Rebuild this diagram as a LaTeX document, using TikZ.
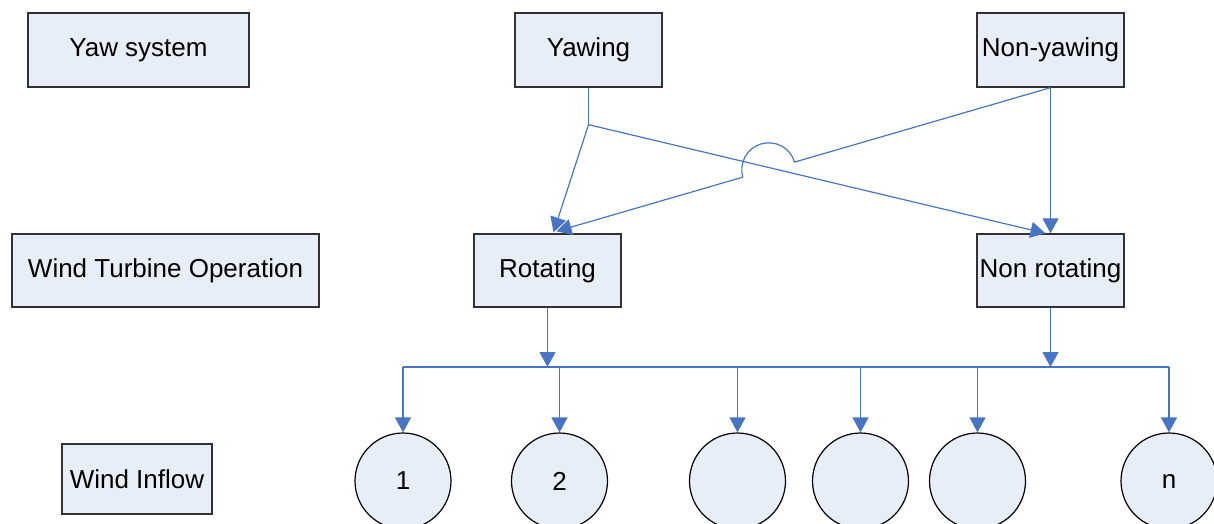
\documentclass[tikz,border=0pt]{standalone}
\usepackage{fontspec}
\setmainfont{Liberation Sans}
\usetikzlibrary{arrows.meta,calc}
\definecolor{boxfill}{RGB}{232,238,248}
\definecolor{linkblue}{RGB}{71,117,196}
\definecolor{boxedge}{RGB}{50,50,50}
\tikzset{
  box/.style={draw=boxedge,line width=1.3pt,fill=boxfill,inner sep=0pt,
    font=\fontsize{26}{30}\selectfont},
  ring/.style={circle,draw=black,line width=1.2pt,fill=boxfill,inner sep=0pt,
    minimum size=96pt,font=\fontsize{26}{30}\selectfont},
  link/.style={draw=linkblue,line width=1.2pt},
  arr/.style={link,-{Triangle[width=16pt,length=15pt]}}
}
\begin{document}
\begin{tikzpicture}[x=1pt,y=-1pt]
\useasboundingbox (0,0) rectangle (1214,524);
\clip (0,0) rectangle (1214,524);
% boxes
\node[box,minimum width=221pt,minimum height=74pt] (yaw) at (138.5,50) {Yaw system};
\node[box,minimum width=307pt,minimum height=73pt] (wto) at (165.5,270.5) {Wind Turbine Operation};
\node[box,minimum width=150pt,minimum height=70pt] (wi) at (137,479) {Wind Inflow};
\node[box,minimum width=147pt,minimum height=74pt] (yawing) at (588.5,50) {Yawing};
\node[box,minimum width=147pt,minimum height=74pt] (nony) at (1050.5,50) {Non-yawing};
\node[box,minimum width=147pt,minimum height=73pt] (rot) at (547.5,270.5) {Rotating};
\node[box,minimum width=147pt,minimum height=73pt] (nrot) at (1050.5,270.5) {Non rotating};
% circles
\node[ring] (c1) at (403,481) {1};
\node[ring] (c2) at (559.5,481) {2};
\node[ring] (c3) at (737.5,481) {};
\node[ring] (c4) at (860.5,481) {};
\node[ring] (c5) at (977.5,481) {};
\node[ring] (cn) at (1169,481) {n};
% junctions
\coordinate (j1) at ($(yawing.south)+(0,37)$);
\coordinate (rtA) at ($(rot.north)+(6,-1)$);
\coordinate (rtB) at ($(rot.north)+(9,-2)$);
\coordinate (nrtA) at ($(nrot.north)+(-5,0)$);
\coordinate (busL) at (c1.north |- 0,367);
\coordinate (busR) at (cn.north |- 0,367);
% top connectors
\draw[link] (yawing.south) -- (j1);
\draw[arr] (j1) -- (rtA);
\draw[arr] (j1) -- (nrtA);
\draw[arr] (nony.south) -- (nrot.north);
\coordinate (hopR) at ($(nony.south)!0.518!(rtB)$);
\coordinate (hopL) at ($(nony.south)!0.623!(rtB)$);
\draw[link] (nony.south) -- (hopR) arc[start angle=-16.6,end angle=-196.6,radius=27];
\draw[arr] (hopL) -- (rtB);
% bus
\draw[link] (busL) -- (busR);
\draw[arr] (rot.south) -- (rot.south |- busL);
\draw[arr] (nrot.south) -- (nrot.south |- busL);
\foreach \c in {c1,c2,c3,c4,c5,cn}{
  \draw[arr] (\c.north |- busL) -- (\c.north);
}
\end{tikzpicture}
\end{document}
